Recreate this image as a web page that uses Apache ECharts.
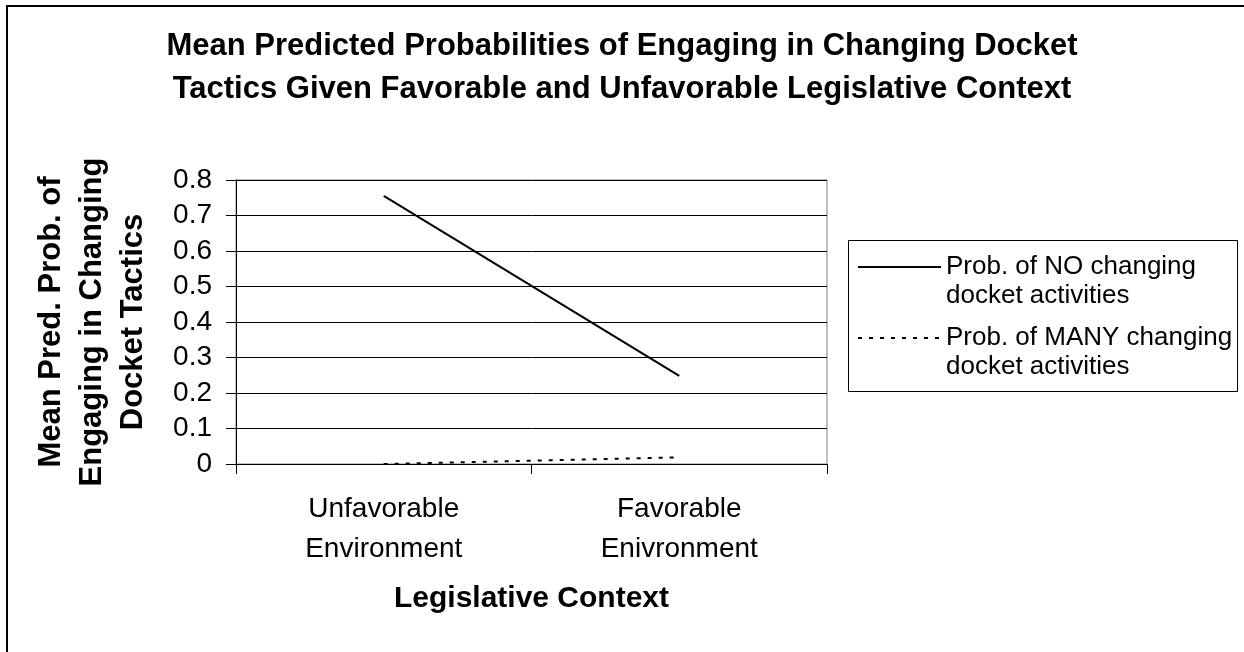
<!DOCTYPE html>
<html>
<head>
<meta charset="utf-8">
<script src="https://cdn.jsdelivr.net/npm/echarts@6/dist/echarts.min.js"></script>
<style>html,body{margin:0;padding:0;background:#fff}#c{width:1244px;height:652px}</style>
</head>
<body>
<div id="c"></div>
<script>
const categories = ['Unfavorable\nEnvironment', 'Favorable\nEnivronment'];
const probNo = [0.755, 0.248];
const probMany = [0.0, 0.019];
const yTicks = [0, 0.1, 0.2, 0.3, 0.4, 0.5, 0.6, 0.7, 0.8];
const seriesNames = ['Prob. of NO changing\ndocket activities', 'Prob. of MANY changing\ndocket activities'];

const FF = 'Arial, "Liberation Sans", sans-serif';
const legendText = {
  fontFamily: FF, fontSize: 26, color: '#000',
  rich: {
    a: {fontFamily: FF, fontSize: 26, color: '#000', lineHeight: 29},
    g: {fontFamily: FF, fontSize: 26, lineHeight: 29, height: 29}
  }
};
const legendFmt = name => '{g| }\n' + name.split('\n').map(s => '{a|' + s + '}').join('\n');
function makeLegend(name, top) {
  return {
    orient: 'vertical', left: 857, top: top, padding: 0,
    itemWidth: 83, itemHeight: 4,
    itemStyle: {opacity: 0},
    textStyle: legendText,
    formatter: legendFmt,
    data: [name]
  };
}

const chart = echarts.init(document.getElementById('c'), null, {renderer: 'canvas'});
chart.setOption({
  backgroundColor: '#fff',
  animation: false,
  title: {
    text: 'Mean Predicted Probabilities of Engaging in Changing Docket\nTactics Given Favorable and Unfavorable Legislative Context',
    left: 'center', top: 25, padding: 0,
    textStyle: {fontFamily: FF, fontSize: 31, fontWeight: 'bold', color: '#000', lineHeight: 43}
  },
  graphic: [
    {type: 'line', shape: {x1: 7, y1: 6, x2: 1244, y2: 6}, style: {stroke: '#000', lineWidth: 2}},
    {type: 'line', shape: {x1: 7, y1: 5, x2: 7, y2: 652}, style: {stroke: '#000', lineWidth: 2}},
    {type: 'rect', z: -1, shape: {x: 848.5, y: 240.5, width: 389, height: 151}, style: {fill: '#fff', stroke: '#000', lineWidth: 1}}
  ],
  legend: [makeLegend(seriesNames[0], 223.5), makeLegend(seriesNames[1], 294.5)],
  grid: {left: 236, right: 417, top: 180, bottom: 188, show: true, borderColor: '#808080', borderWidth: 1},
  xAxis: {
    type: 'category', data: categories, boundaryGap: true,
    axisLine: {lineStyle: {color: '#000'}},
    axisTick: {show: true, length: 10, lineStyle: {color: '#000'}},
    axisLabel: {fontFamily: FF, fontSize: 28, color: '#000', lineHeight: 40, margin: 25},
    name: 'Legislative Context', nameLocation: 'middle', nameGap: 120,
    nameTextStyle: {fontFamily: FF, fontSize: 30, fontWeight: 'bold', color: '#000'}
  },
  yAxis: {
    type: 'value', min: 0, max: 0.8, interval: 0.1,
    axisLine: {show: true, lineStyle: {color: '#000'}},
    axisTick: {show: true, length: 10, lineStyle: {color: '#000'}},
    splitLine: {show: true, lineStyle: {color: '#000', width: 1}},
    axisLabel: {fontFamily: FF, fontSize: 28, color: '#000', margin: 24,
      formatter: v => (v === 0 ? '0' : v.toFixed(1))},
    name: 'Mean Pred. Prob. of\nEngaging in Changing\nDocket Tactics', nameLocation: 'middle', nameGap: 82, nameRotate: 90,
    nameTextStyle: {fontFamily: FF, fontSize: 31, fontWeight: 'bold', color: '#000', lineHeight: 41}
  },
  series: [
    {name: seriesNames[0], type: 'line', data: probNo, symbol: 'circle', showSymbol: false,
      lineStyle: {color: '#000', width: 2, type: 'solid'}, itemStyle: {color: '#000'}},
    {name: seriesNames[1], type: 'line', data: probMany, symbol: 'circle', showSymbol: false,
      lineStyle: {color: '#000', width: 2, type: [4, 7]}, itemStyle: {color: '#000'}}
  ]
});
</script>
</body>
</html>
